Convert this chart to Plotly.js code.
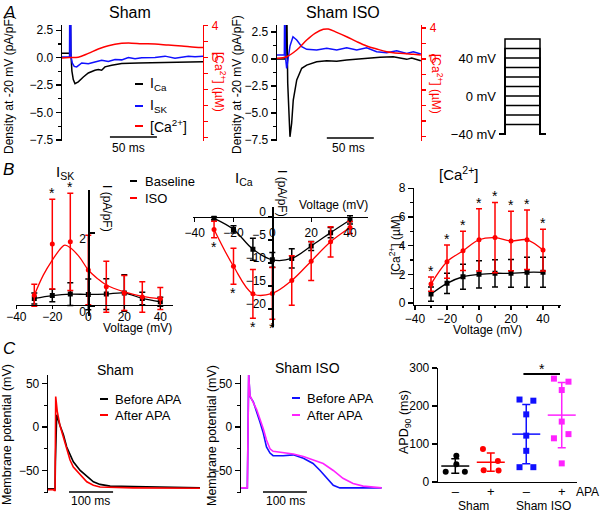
<!DOCTYPE html>
<html><head><meta charset="utf-8">
<script src="https://cdn.plot.ly/plotly-3.0.1.min.js"></script>
<style>html,body{margin:0;padding:0;background:#fff}#chart{width:602px;height:512px}</style>
</head><body><div id="chart"></div>
<script>
// ================= DATA =================
// Panel A – Sham (time ms; current pA/pF; Ca µM)
const icaShamT = [0, 7, 8.3, 8.6, 9.0, 9.4, 10.5, 12, 13.8, 17.3, 22.7, 28, 35, 38.6, 42.2, 45.7, 52.9, 63.5, 81.2, 98.9, 116.7, 134.4, 150];
const icaShamV = [0.4, 0.4, 0.4, 6, 6, 0.5, -1.2, -2.0, -2.37, -2.2, -1.76, -1.4, -1.15, -1.08, -1.15, -0.84, -0.69, -0.53, -0.48, -0.44, -0.42, -0.41, -0.38];
const iskShamT = [0, 7.5, 8.0, 8.3, 9.2, 9.6, 11, 13, 15.6, 21, 28, 35, 42.2, 49.3, 56.4, 63.5, 70.6, 77.7, 84.8, 98.9, 109.6, 120.2, 134.4, 141.5, 150];
const iskShamV = [0.05, 0.05, 0.05, 6, 6, 0.1, -0.5, -0.8, -0.84, -0.48, -0.55, -0.39, -0.23, -0.35, -0.17, -0.2, 0.02, -0.1, 0.0, 0.02, 0.14, -0.05, 0.14, 0.08, 0.12];
const caShamT = [0, 8, 17.3, 28, 38.6, 49.3, 63.5, 74.1, 84.8, 98.9, 113.1, 127.3, 141.5, 150];
const caShamV = [-0.05, 0, 0.05, 0.52, 1.06, 1.48, 1.77, 1.8, 1.72, 1.69, 1.56, 1.44, 1.3, 1.25];
// Panel A – Sham ISO
const icaIsoT = [0, 8.5, 9.2, 9.6, 10.2, 11.4, 13.8, 15.6, 17.3, 21, 26.3, 31.6, 42.2, 52.9, 63.5, 74.1, 88.3, 109.6, 123.7, 138, 143.3, 153];
const icaIsoV = [0, 0, 0.1, 6, 6, -2.25, -7.2, -5.95, -3.8, -1.94, -0.86, -0.56, -0.25, -0.16, -0.2, -0.09, 0.03, 0.16, 0.21, -0.03, 0.1, -0.16];
const iskIsoT = [0, 7.8, 8.2, 8.6, 9.0, 10.3, 13.8, 17, 21, 26.3, 31.6, 42.2, 52.9, 63.5, 74.1, 84.8, 95.4, 106, 116.7, 127.3, 138, 145, 153];
const iskIsoV = [0.37, 0.37, 6, 6, 0.2, -0.86, 1.2, 2.06, 1.76, 1.14, 0.9, 0.83, 1.0, 0.83, 1.05, 0.83, 1.05, 0.68, 0.58, 0.77, 0.52, 0.68, 0.46];
const caIsoT = [0, 10.3, 21, 31.6, 40.4, 49.3, 54.6, 63.5, 74.1, 84.8, 95.4, 106, 116.7, 130.9, 145, 153];
const caIsoV = [0.09, 0.3, 1.16, 2.45, 3.31, 3.83, 3.87, 3.44, 2.88, 2.24, 1.68, 1.29, 0.95, 0.73, 0.6, 0.52];
// Voltage protocol
const protoT = [0, 6, 6, 41, 41, 47];
const holdV = -40;
const stepV = [-30, -20, -10, 0, 10, 20, 30, 40, 50, 60];

// Panel B – I-V relations
const voltages = [-30, -20, -10, 0, 10, 20, 30, 40];
const iskBase = [0.21, 0.29, 0.33, 0.32, 0.33, 0.36, 0.21, 0.12];
const iskBaseErr = [0.15, 0.17, 0.31, 0.42, 0.42, 0.5, 0.17, 0.12];
const iskIso = [0.30, 1.70, 1.76, 0.99, 0.53, 0.36, 0.25, 0.21];
const iskIsoErr = [0.3, 1.23, 1.33, 0.95, 0.7, 0.48, 0.42, 0.3];
const iskFitV = [-30, -25, -20, -15, -13, -10, -5, 0, 5, 10, 20, 30, 40];
const iskFitI = [0.3, 0.85, 1.26, 1.6, 1.67, 1.6, 1.35, 0.99, 0.76, 0.58, 0.39, 0.27, 0.2];
const iskStarV = [-20, -10];

const icaBase = [-0.3, -2.7, -7.0, -9.3, -9.0, -6.3, -3.4, -0.65];
const icaBaseErr = [0.3, 0.8, 2.4, 1.6, 2.1, 1.0, 1.1, 0.9];
const icaIso = [-2.7, -10.7, -16.7, -16.6, -13.8, -9.6, -5.4, -2.3];
const icaIsoErr = [1.8, 3.9, 5.3, 5.6, 5.4, 4.2, 3.3, 1.3];
const icaStarV = [-30, -20, -10, 0];

const caBase = [0.62, 1.37, 1.83, 2.0, 2.07, 2.07, 2.14, 2.14];
const caBaseErr = [0.5, 0.7, 0.88, 0.95, 0.95, 0.97, 1.05, 1.05];
const caIso = [1.32, 2.88, 3.64, 4.41, 4.56, 4.32, 4.41, 3.69];
const caIsoErr = [0.5, 1.16, 1.37, 2.17, 2.45, 2.07, 2.07, 1.45];
const caStarV = [-30, -20, -10, 0, 10, 20, 30, 40];

// Panel C – action potentials (ms, mV)
const apShamBeforeT = [0, 12, 14.3, 16, 16.8, 19.8, 27, 35, 42.5, 50, 57.5, 73, 88, 103, 118, 141, 193, 345];
const apShamBeforeV = [-71, -71, -72, -72, -40, 14, 2, -9, -23, -32, -40, -50, -57, -63, -66, -68, -68.5, -70];
const apShamAfterT = [0, 12, 14.3, 16, 17.5, 21, 27, 35, 42.5, 50, 57.5, 73, 88, 103, 118, 193, 345];
const apShamAfterV = [-72, -72, -73, -73, 35, 18, 2, -13, -26, -38, -46, -55, -63, -67, -69, -70, -70.5];
const apIsoBeforeT = [0, 13, 14.4, 17.5, 20.5, 28, 35.6, 43, 50.7, 58, 66, 73, 96, 119, 142, 164, 180, 195, 210, 225, 320];
const apIsoBeforeV = [-70, -70, -70, 60, 35, 29, 18, 6, -7, -23, -30, -33, -33, -32, -36, -42, -50, -59, -67, -70, -70];
const apIsoAfterT = [0, 13, 14.5, 17.5, 20.5, 35.6, 43, 50.7, 58, 66, 73, 96, 119, 142, 164, 187, 210, 232, 255, 278, 320];
const apIsoAfterV = [-70, -70, -70, 60, 36, 20, 10, -2, -15, -25, -28, -29.5, -31, -34, -38, -42, -50, -59, -65, -68, -70];

// APD90 (ms)
const apdGroups = ['Sham −', 'Sham +', 'Sham ISO −', 'Sham ISO +'];
const apdShamMinus = [27, 69, 47, 27];
const apdShamPlus = [87, 31, 55, 30];
const apdIsoMinus = [217, 214, 178, 122, 82, 39, 39];
const apdIsoPlus = [272, 264, 242, 159, 126, 115, 49];
const apdMean = [42, 52, 126, 176];
const apdSD = [19, 24, 78, 86];
const jitShamMinus = [-0.27, 0.03, 0.03, 0.27];
const jitShamPlus = [-0.22, -0.2, 0.2, 0.22];
const jitIsoMinus = [-0.19, 0.2, 0, 0, 0, -0.19, 0.2];
const jitIsoPlus = [-0.22, 0.19, 0, 0, 0.19, -0.22, 0];

// ================= DRAWING =================
const FONT = 'Liberation Sans, Arial, Helvetica, sans-serif';
const W = 602, H = 512;
const X = p => p / W;
const Y = p => 1 - p / H;
const xdom = (a, b) => [a / W, b / W];
const ydom = (top, bot) => [1 - bot / H, 1 - top / H];
const RED = '#ff0000', BLUE = '#1010ff', MAG = '#ff22ff', BLK = '#000000';

const traces = [];
function ln(x, y, xa, ya, color, w, extra) {
  traces.push(Object.assign({x, y, xaxis: xa, yaxis: ya, type: 'scatter', mode: 'lines',
    line: {color, width: w || 1.5}, hoverinfo: 'skip'}, extra || {}));
}
// A1
ln(icaShamT, icaShamV, 'x', 'y', BLK, 1.5);
ln(iskShamT, iskShamV, 'x', 'y', BLUE, 1.5);
ln(caShamT, caShamV, 'x', 'y2', RED, 1.5, {line: {color: RED, width: 1.5, shape: 'spline'}});
// A2
ln(icaIsoT, icaIsoV, 'x2', 'y3', BLK, 1.5);
ln(iskIsoT, iskIsoV, 'x2', 'y3', BLUE, 1.5);
ln(caIsoT, caIsoV, 'x2', 'y4', RED, 1.5, {line: {color: RED, width: 1.5, shape: 'spline'}});
// A3 protocol
stepV.forEach(v => ln(protoT, [holdV, holdV, v, v, holdV, holdV], 'x3', 'y5', BLK, 1.5));

function pts(x, y, err, xa, ya, color, symbol, withLine) {
  traces.push({x, y, xaxis: xa, yaxis: ya, type: 'scatter', mode: withLine ? 'lines+markers' : 'markers',
    line: {color, width: 1.3, shape: 'spline'},
    marker: {color, size: 5, symbol},
    error_y: {type: 'data', array: err, visible: true, color, thickness: 1.5, width: 3},
    hoverinfo: 'skip'});
}
// B1
pts(voltages, iskBase, iskBaseErr, 'x4', 'y6', BLK, 'square', true);
pts(voltages, iskIso, iskIsoErr, 'x4', 'y6', RED, 'circle', false);
ln(iskFitV, iskFitI, 'x4', 'y6', RED, 1.3, {line: {color: RED, width: 1.3, shape: 'spline'}});
// B2
pts(voltages, icaBase, icaBaseErr, 'x5', 'y7', BLK, 'square', true);
pts(voltages, icaIso, icaIsoErr, 'x5', 'y7', RED, 'circle', true);
// B3
pts(voltages, caBase, caBaseErr, 'x6', 'y8', BLK, 'square', true);
pts(voltages, caIso, caIsoErr, 'x6', 'y8', RED, 'circle', true);
// C1, C2
ln(apShamBeforeT, apShamBeforeV, 'x7', 'y9', BLK, 1.6);
ln(apShamAfterT, apShamAfterV, 'x7', 'y9', RED, 1.6);
ln(apIsoBeforeT, apIsoBeforeV, 'x8', 'y10', BLUE, 1.6);
ln(apIsoAfterT, apIsoAfterV, 'x8', 'y10', MAG, 1.6);
// C3
const apdSets = [apdShamMinus, apdShamPlus, apdIsoMinus, apdIsoPlus];
const apdJit = [jitShamMinus, jitShamPlus, jitIsoMinus, jitIsoPlus];
const apdCol = [BLK, RED, BLUE, MAG];
const apdSym = ['circle', 'circle', 'square', 'square'];
apdSets.forEach((vals, g) => {
  traces.push({x: vals.map((_, i) => g + 1 + apdJit[g][i]), y: vals, xaxis: 'x9', yaxis: 'y11',
    type: 'scatter', mode: 'markers', marker: {color: apdCol[g], size: 6, symbol: apdSym[g]}, hoverinfo: 'skip'});
  traces.push({x: [g + 1], y: [apdMean[g]], xaxis: 'x9', yaxis: 'y11', type: 'scatter', mode: 'markers',
    marker: {symbol: 'line-ew', size: 20, color: apdCol[g], line: {color: apdCol[g], width: 1.5}},
    error_y: {type: 'data', array: [apdSD[g]], visible: true, color: apdCol[g], thickness: 1.5, width: 4},
    hoverinfo: 'skip'});
});

// ---- axes ----
const tf = (c, s) => ({family: FONT, size: s || 12, color: c || BLK});
const base = {showgrid: false, zeroline: false, showline: true, linecolor: BLK, linewidth: 1.3,
  ticks: 'outside', ticklen: 5, tickwidth: 1.3, tickcolor: BLK, tickfont: tf(), fixedrange: true};
const ax = o => Object.assign({}, base, o);
const hid = o => Object.assign({visible: false, fixedrange: true, showgrid: false, zeroline: false}, o);
const minor = (d, t0) => ({tickmode: 'linear', tick0: t0 || 0, dtick: d, ticks: 'outside', ticklen: 3, tickwidth: 1.2, tickcolor: BLK});

const leftA = {tickvals: [-7.5, -5, -2.5, 0, 2.5], ticktext: ['−7.5', '−5.0', '−2.5', '0.0', '2.5'], minor: minor(1.25)};
const rightA = {side: 'right', linecolor: RED, tickcolor: RED, tickfont: tf(RED),
  tickvals: [-10, -8, -6, -4, -2, 0, 2, 4], ticktext: ['', '', '', '', '', '0', '', '4'], ticklen: 4, ticklabelstandoff: 1};
const vTicks = {tickvals: [-40, -20, 0, 20, 40], ticktext: ['−40', '−20', '0', '20', '40']};

const layout = {
  width: W, height: H, margin: {l: 0, r: 0, t: 0, b: 0}, showlegend: false,
  paper_bgcolor: '#ffffff', plot_bgcolor: 'rgba(0,0,0,0)', font: {family: FONT, size: 12, color: BLK},
  // A1
  xaxis: hid({domain: xdom(62, 203), range: [0, 150], anchor: 'y'}),
  yaxis: ax(Object.assign({domain: ydom(25, 141), range: [-7.6, 2.98], anchor: 'x'}, leftA)),
  yaxis2: ax(Object.assign({overlaying: 'y', anchor: 'x', range: [-10.4, 4.06]}, rightA)),
  // A2
  xaxis2: hid({domain: xdom(277, 421), range: [0, 153.2], anchor: 'y3'}),
  yaxis3: ax(Object.assign({domain: ydom(25, 141), range: [-7.59, 3.15], anchor: 'x2'}, leftA)),
  yaxis4: ax(Object.assign({overlaying: 'y3', anchor: 'x2', range: [-10.58, 4.39]}, rightA)),
  // A3
  xaxis3: hid({domain: xdom(499, 550), range: [0, 51], anchor: 'y5'}),
  yaxis5: ax({domain: ydom(30, 140), range: [-46.3, 69.5], anchor: 'x3', showline: false, ticks: '',
    tickvals: [-40, 0, 40], ticktext: ['−40 mV', '0 mV', '40 mV'], tickfont: tf(BLK, 13), ticklabelstandoff: 2}),
  // B1
  xaxis4: ax(Object.assign({domain: xdom(16.3, 172.9), range: [-40, 47], anchor: 'free', position: Y(305),
    ticklen: 3, ticklabelstandoff: -3}, vTicks)),
  yaxis6: ax({domain: ydom(190, 316), range: [-0.27, 3.18], anchor: 'free', position: X(88.3),
    tickvals: [0, 2], ticktext: ['0', '2'], ticks: 'inside', ticklabelshift: 6}),
  // B2
  xaxis5: ax(Object.assign({domain: xdom(192.7, 367.5), range: [-41, 49], anchor: 'free', position: Y(217), ticklen: 4}, vTicks)),
  yaxis7: ax({domain: ydom(207, 327), range: [-23.9, 2.17], anchor: 'free', position: X(272.4),
    tickvals: [0, -5, -10, -15, -20], ticktext: ['0', '−5', '−10', '−15', '−20'], ticklen: 4, ticklabelshift: -5}),
  // B3
  xaxis6: ax(Object.assign({domain: xdom(414.2, 560.6), range: [-40.5, 51], anchor: 'y8', ticklen: 4,
    ticklabelstandoff: -2, minor: Object.assign(minor(10), {ticklen: 2})}, vTicks)),
  yaxis8: ax({domain: ydom(188, 305), range: [-0.14, 8.02], anchor: 'x6', tickvals: [0, 2, 4, 6, 8], minor: minor(1)}),
  // C1
  xaxis7: hid({domain: xdom(48, 200), range: [0, 345], anchor: 'y9'}),
  yaxis9: ax({domain: ydom(375, 493), range: [-75.9, 59.8], anchor: 'x7', tickvals: [-50, 0, 50], ticktext: ['−50', '0', '50'], minor: minor(25)}),
  // C2
  xaxis8: hid({domain: xdom(241, 386), range: [0, 330], anchor: 'y10'}),
  yaxis10: ax({domain: ydom(375, 493), range: [-75.9, 59.8], anchor: 'x8', tickvals: [-50, 0, 50], ticktext: ['−50', '0', '50'], minor: minor(25)}),
  // C3
  xaxis9: ax({domain: xdom(438, 577), range: [0.513, 4.43], anchor: 'y11', tickvals: [1, 2, 3, 4],
    ticktext: ['–', '+', '–', '+'], ticks: '', tickfont: tf(BLK, 13), ticklabelstandoff: -3}),
  yaxis11: ax({domain: ydom(368, 482), range: [0, 300], anchor: 'x9', tickvals: [0, 100, 200, 300]})
};

// ---- annotations ----
const anns = [];
function T(text, x, y, size, color, extra) {
  anns.push(Object.assign({text, x: X(x), y: Y(y), xref: 'paper', yref: 'paper', showarrow: false,
    xanchor: 'center', yanchor: 'middle', font: tf(color || BLK, size || 12)}, extra || {}));
}
// panel letters
T('<i>A</i>', 1, 12, 17, BLK, {xanchor: 'left'});
T('<i>B</i>', 1, 169, 17, BLK, {xanchor: 'left'});
T('<i>C</i>', 1, 348, 17, BLK, {xanchor: 'left'});
// A
T('Sham', 130, 12, 16);
T('Sham ISO', 343, 12, 16);
T('Density at -20 mV (pA/pF)', 9, 85, 12, BLK, {textangle: -90});
T('Density at -20 mV (pA/pF)', 237, 85, 12, BLK, {textangle: -90});
T('[Ca<sup>2+</sup>] (µM)', 220, 82, 12, RED, {textangle: 90});
T('[Ca<sup>2+</sup>] (µM)', 437, 84, 12, RED, {textangle: 90});
T('50 ms', 128, 148, 12);
T('50 ms', 348, 148, 12);
T('I<sub>Ca</sub>', 148, 84, 14, BLK, {xanchor: 'left'});
T('I<sub>SK</sub>', 148, 106, 14, BLK, {xanchor: 'left'});
T('[Ca<sup>2+</sup>]', 148, 126, 14, BLK, {xanchor: 'left'});
// B
T('I<sub>SK</sub>', 65, 172, 15);
T('Baseline', 143, 181, 13, BLK, {xanchor: 'left'});
T('ISO', 143, 198, 13, BLK, {xanchor: 'left'});
T('I (pA/pF)', 107, 208, 12, BLK, {textangle: 90});
T('Voltage (mV)', 137, 328, 12);
T('I<sub>Ca</sub>', 244, 178, 15);
T('I (pA/pF)', 282, 193, 12, BLK, {textangle: 90});
T('Voltage (mV)', 333, 205, 12);
T('[Ca<sup>2+</sup>]', 459, 173, 15);
T('[Ca<sup>2+</sup>] (µM)', 395, 245, 12, BLK, {textangle: -90});
T('Voltage (mV)', 487, 330, 12);
// C
T('Sham', 115, 370, 14);
T('Before APA', 113, 399, 13, BLK, {xanchor: 'left'});
T('After APA', 113, 415, 13, BLK, {xanchor: 'left'});
T('Membrane potential (mV)', 7, 435, 12.5, BLK, {textangle: -90});
T('100 ms', 90, 501, 12);
T('Sham ISO', 307, 368, 14);
T('Before APA', 305, 398, 13, BLK, {xanchor: 'left'});
T('After APA', 305, 415, 13, BLK, {xanchor: 'left'});
T('Membrane potential (mV)', 212, 435, 12.5, BLK, {textangle: -90});
T('100 ms', 285, 501, 12);
T('APD<sub>90</sub> (ms)', 405, 422, 12.5, BLK, {textangle: -90});
T('Sham', 473, 506, 12);
T('Sham ISO', 543, 506, 12);
T('APA', 587, 492, 12);
T('*', 542, 369, 14);

// asterisks on B panels (data coordinates)
function star(xa, ya, v, y, below) {
  anns.push({text: '*', x: v, y, xref: xa, yref: ya, showarrow: false, xanchor: 'center',
    yanchor: below ? 'top' : 'bottom', yshift: below ? 1 : -4, font: tf(BLK, 14)});
}
iskStarV.forEach(v => { const i = voltages.indexOf(v); star('x4', 'y6', v, iskIso[i] + iskIsoErr[i], false); });
icaStarV.forEach(v => { const i = voltages.indexOf(v); star('x5', 'y7', v, icaIso[i] - icaIsoErr[i], true); });
caStarV.forEach(v => { const i = voltages.indexOf(v); star('x6', 'y8', v, caIso[i] + caIsoErr[i], false); });
layout.annotations = anns;

// ---- shapes: legend swatches, scale bars, significance bar ----
const shapes = [];
function sw(x0, x1, y, color) {
  shapes.push({type: 'line', xref: 'paper', yref: 'paper', x0: X(x0), x1: X(x1), y0: Y(y), y1: Y(y), line: {color, width: 2}});
}
sw(135, 143, 84, BLK); sw(135, 143, 106, BLUE); sw(135, 143, 126, RED);
sw(130, 137, 181, BLK); sw(130, 137, 198, RED);
sw(100, 108, 399, BLK); sw(100, 108, 415, RED);
sw(292, 300, 398, BLUE); sw(292, 300, 415, MAG);
function bar(xa, t0, t1, y) {
  shapes.push({type: 'line', xref: xa, yref: 'paper', x0: t0, x1: t1, y0: Y(y), y1: Y(y), line: {color: BLK, width: 1.5}});
}
bar('x', 51, 101, 137); bar('x2', 53, 103, 138);
bar('x7', 47.7, 147.7, 492); bar('x8', 50, 150, 492);
shapes.push({type: 'line', xref: 'x9', yref: 'y11', x0: 2.92, x1: 3.95, y0: 284, y1: 284, line: {color: BLK, width: 2}});
layout.shapes = shapes;

Plotly.newPlot('chart', traces, layout, {staticPlot: true, displayModeBar: false});
</script>
</body></html>
